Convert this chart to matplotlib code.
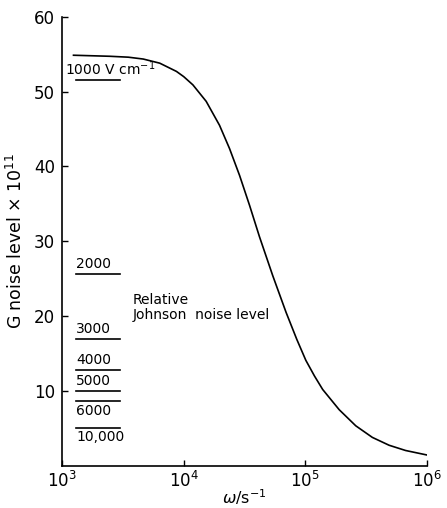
import numpy as np
import matplotlib as mpl
mpl.use('Agg')
import matplotlib.pyplot as plt

# G noise level (omega in s^-1)
omega = [1.24e3, 2.47e3, 3.5e3, 4.65e3, 6.35e3, 8.71e3, 1e4, 1.19e4, 1.53e4,
         1.97e4, 2.38e4, 2.88e4, 3.48e4, 4.2e4, 5.4e4, 6.95e4, 8.51e4, 1.01e5,
         1.19e5, 1.39e5, 1.9e5, 2.6e5, 3.56e5, 4.89e5, 6.68e5, 1e6]
g_noise = [54.86, 54.72, 54.6, 54.35, 53.8, 52.7, 52.0, 50.9, 48.7,
           45.5, 42.4, 38.8, 34.8, 30.6, 25.4, 20.5, 16.9, 14.1,
           12.0, 10.2, 7.5, 5.35, 3.8, 2.75, 2.05, 1.45]

# relative Johnson noise level for each field strength
field_labels = ['1000 V cm$^{-1}$', '2000', '3000', '4000', '5000', '6000', '10,000']
johnson_level = [51.5, 25.6, 17.0, 12.8, 10.0, 8.6, 5.1]
label_above = [True, True, True, True, True, False, False]

x_ticks = [1e3, 1e4, 1e5, 1e6]
x_ticklabels = ['$10^{3}$', '$10^{4}$', '$10^{5}$', '$10^{6}$']
y_ticks = [10, 20, 30, 40, 50, 60]

plt.rcParams['font.family'] = 'DejaVu Sans'
plt.rcParams['mathtext.fontset'] = 'dejavusans'

fig = plt.figure(figsize=(4.47, 5.08), dpi=100)
ax = fig.add_axes([0.139, 0.083, 0.816, 0.884])

ax.plot(omega, g_noise, color='black', lw=1.2)

x0, x1 = 1.3e3, 2.99e3
for lab, lev, above in zip(field_labels, johnson_level, label_above):
    ax.plot([x0, x1], [lev, lev], color='black', lw=1.2)
    if above:
        xt = 1.06e3 if lab.startswith('1000 ') else x0
        ax.annotate(lab, xy=(xt, lev), xytext=(0, 2), textcoords='offset points',
                    ha='left', va='bottom', fontsize=10)
    else:
        ax.annotate(lab, xy=(x0, lev), xytext=(0, -2), textcoords='offset points',
                    ha='left', va='top', fontsize=10)

ax.text(3.8e3, 21.2, 'Relative\nJohnson  noise level', ha='left', va='center',
        fontsize=10, linespacing=1.1)

ax.set_xscale('log')
ax.set_xlim(1e3, 1e6)
ax.set_ylim(0, 60)
ax.set_xticks(x_ticks)
ax.set_xticklabels(x_ticklabels)
ax.xaxis.set_minor_locator(mpl.ticker.NullLocator())
ax.set_yticks(y_ticks)

for s in ['top', 'right']:
    ax.spines[s].set_visible(False)
for s in ['left', 'bottom']:
    ax.spines[s].set_linewidth(1.2)

ax.tick_params(axis='both', direction='in', length=4, width=1, labelsize=12)
ax.tick_params(axis='x', pad=4)
ax.tick_params(axis='y', pad=5)

ax.set_xlabel(r'$\omega$/s$^{-1}$', fontsize=11.5, labelpad=-3)
ax.set_ylabel('G noise level $\\times$ 10$^{11}$', fontsize=12.5, labelpad=6)

plt.savefig('out.png', dpi=100)
